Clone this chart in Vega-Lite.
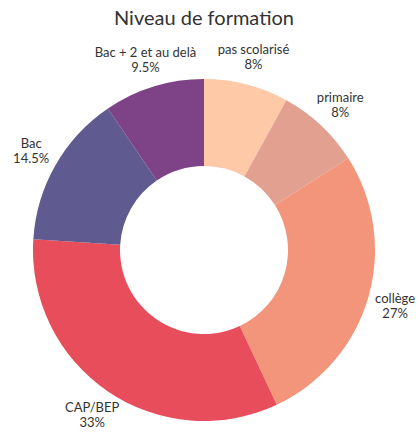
{
  "$schema": "https://vega.github.io/schema/vega-lite/v6.json",
  "autosize": "none",
  "width": 408,
  "height": 410,
  "padding": {"top": 45, "left": 0, "right": 12, "bottom": 0},
  "background": "white",
  "title": {"text": "Niveau de formation", "font": "Lato", "fontSize": 20, "fontWeight": "normal", "color": "#333333", "offset": 15, "anchor": "middle"},
  "data": {"values": [
    {"order": 1, "niveau": "pas scolarisé", "part": 0.08},
    {"order": 2, "niveau": "primaire", "part": 0.08},
    {"order": 3, "niveau": "collège", "part": 0.27},
    {"order": 4, "niveau": "CAP/BEP", "part": 0.33},
    {"order": 5, "niveau": "Bac", "part": 0.145},
    {"order": 6, "niveau": "Bac + 2 et au delà", "part": 0.095}
  ]},
  "encoding": {
    "theta": {"field": "part", "type": "quantitative", "stack": true},
    "order": {"field": "order", "type": "quantitative"}
  },
  "layer": [
    {
      "mark": {"type": "arc", "outerRadius": 171, "innerRadius": 84},
      "encoding": {
        "color": {
          "field": "niveau", "type": "nominal", "legend": null,
          "scale": {
            "domain": ["pas scolarisé", "primaire", "collège", "CAP/BEP", "Bac", "Bac + 2 et au delà"],
            "range": ["#FEC9A7", "#E2A190", "#F3957B", "#E84D5B", "#5F5A8F", "#7D4386"]
          }
        }
      }
    },
    {
      "mark": {"type": "text", "radius": 199, "font": "Lato", "fontSize": 13, "color": "#333333", "align": "center", "baseline": "middle", "dy": -7},
      "encoding": {"text": {"field": "niveau", "type": "nominal"}}
    },
    {
      "mark": {"type": "text", "radius": 199, "font": "Lato", "fontSize": 13, "color": "#333333", "align": "center", "baseline": "middle", "dy": 8},
      "encoding": {"text": {"field": "part", "type": "quantitative", "format": ".1~%"}}
    }
  ],
  "config": {"view": {"stroke": null}}
}
